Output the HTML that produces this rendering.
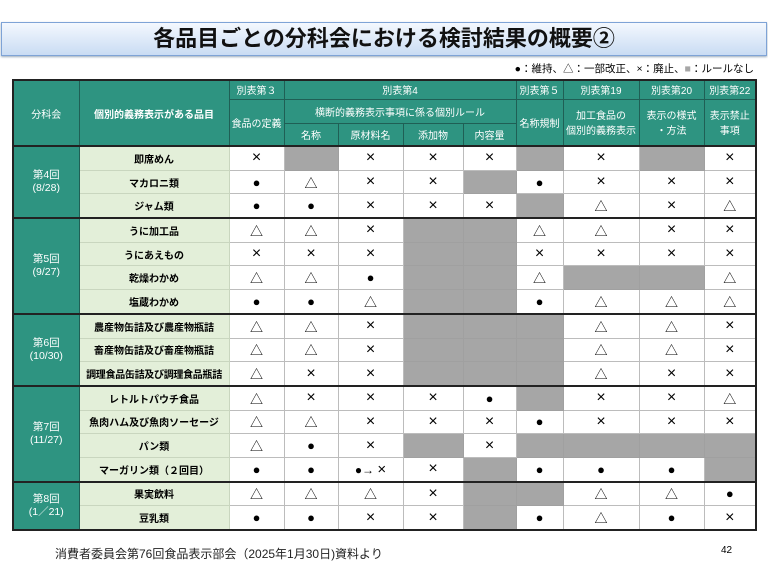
<!DOCTYPE html>
<html><head><meta charset="utf-8"><style>
body{margin:0;width:768px;height:576px;background:#fff;position:relative;overflow:hidden;font-family:"Liberation Sans","Noto Sans CJK JP",sans-serif}
.title{position:absolute;left:1px;top:22px;width:764px;height:32px;border:1px solid #7ea3d6;background:linear-gradient(#f4f8fe,#c9dcf3);box-shadow:0 1px 2px #9ab;text-align:center;font-size:22px;font-weight:bold;line-height:32px;color:#111}
.leg{position:absolute;right:14px;top:61px;font-size:10.5px;color:#000}
table{position:absolute;left:12px;top:79px;width:743px;border-collapse:collapse;table-layout:fixed;border:2px solid #222}
td{padding:0;text-align:center;font-size:13px;border:1px solid #bcbcbc;background:#fff;color:#000;overflow:hidden;white-space:nowrap}
td.x{font-size:16px}
td.h{background:#2e9481;color:#fff;border:1px solid #1f5f55;font-size:10px}
td.s{background:#2e9481;color:#fff;border:1px solid #1f5f55;font-size:10.5px;line-height:13px}
td.i{background:#e3efd9;font-weight:bold;font-size:10px;border-color:#c9d6bf}
td.g{background:#a6a6a6;border-color:#a0a0a0}
td.m{font-size:12px}
tr.d td{height:22.7px}
tr.t td{border-top:2px solid #222}
.foot{position:absolute;left:55px;top:545px;font-size:12px;color:#222}
.pg{position:absolute;left:721px;top:545px;font-size:10px}
</style></head><body>
<div class="title">各品目ごとの分科会における検討結果の概要②</div>
<div class="leg">●：維持、△：一部改正、×：廃止、<span style="color:#a6a6a6">■</span>：ルールなし</div>
<table>
<colgroup><col style="width:66px"><col style="width:150px"><col style="width:55px"><col style="width:54px"><col style="width:65px"><col style="width:60px"><col style="width:53px"><col style="width:47px"><col style="width:76px"><col style="width:65px"><col style="width:52px"></colgroup>
<tr style="height:19px"><td class="h" rowspan="3">分科会</td><td class="h" rowspan="3" style="font-weight:bold">個別的義務表示がある品目</td><td class="h">別表第３</td><td class="h" colspan="4">別表第4</td><td class="h">別表第５</td><td class="h">別表第19</td><td class="h">別表第20</td><td class="h">別表第22</td></tr>
<tr style="height:24px"><td class="h" rowspan="2">食品の定義</td><td class="h" colspan="4">横断的義務表示事項に係る個別ルール</td><td class="h" rowspan="2">名称規制</td><td class="h" rowspan="2">加工食品の<br>個別的義務表示</td><td class="h" rowspan="2">表示の様式<br>・方法</td><td class="h" rowspan="2">表示禁止<br>事項</td></tr>
<tr style="height:23px"><td class="h">名称</td><td class="h">原材料名</td><td class="h">添加物</td><td class="h">内容量</td></tr>
<tr class="d t"><td class="s" rowspan="3">第4回<br>(8/28)</td><td class="i">即席めん</td><td class="x">×</td><td class="g"></td><td class="x">×</td><td class="x">×</td><td class="x">×</td><td class="g"></td><td class="x">×</td><td class="g"></td><td class="x">×</td></tr>
<tr class="d"><td class="i">マカロニ類</td><td>●</td><td>△</td><td class="x">×</td><td class="x">×</td><td class="g"></td><td>●</td><td class="x">×</td><td class="x">×</td><td class="x">×</td></tr>
<tr class="d"><td class="i">ジャム類</td><td>●</td><td>●</td><td class="x">×</td><td class="x">×</td><td class="x">×</td><td class="g"></td><td>△</td><td class="x">×</td><td>△</td></tr>
<tr class="d t"><td class="s" rowspan="4">第5回<br>(9/27)</td><td class="i">うに加工品</td><td>△</td><td>△</td><td class="x">×</td><td class="g"></td><td class="g"></td><td>△</td><td>△</td><td class="x">×</td><td class="x">×</td></tr>
<tr class="d"><td class="i">うにあえもの</td><td class="x">×</td><td class="x">×</td><td class="x">×</td><td class="g"></td><td class="g"></td><td class="x">×</td><td class="x">×</td><td class="x">×</td><td class="x">×</td></tr>
<tr class="d"><td class="i">乾燥わかめ</td><td>△</td><td>△</td><td>●</td><td class="g"></td><td class="g"></td><td>△</td><td class="g"></td><td class="g"></td><td>△</td></tr>
<tr class="d"><td class="i">塩蔵わかめ</td><td>●</td><td>●</td><td>△</td><td class="g"></td><td class="g"></td><td>●</td><td>△</td><td>△</td><td>△</td></tr>
<tr class="d t"><td class="s" rowspan="3">第6回<br>(10/30)</td><td class="i">農産物缶詰及び農産物瓶詰</td><td>△</td><td>△</td><td class="x">×</td><td class="g"></td><td class="g"></td><td class="g"></td><td>△</td><td>△</td><td class="x">×</td></tr>
<tr class="d"><td class="i">畜産物缶詰及び畜産物瓶詰</td><td>△</td><td>△</td><td class="x">×</td><td class="g"></td><td class="g"></td><td class="g"></td><td>△</td><td>△</td><td class="x">×</td></tr>
<tr class="d"><td class="i" style="letter-spacing:-0.3px">調理食品缶詰及び調理食品瓶詰</td><td>△</td><td class="x">×</td><td class="x">×</td><td class="g"></td><td class="g"></td><td class="g"></td><td>△</td><td class="x">×</td><td class="x">×</td></tr>
<tr class="d t"><td class="s" rowspan="4">第7回<br>(11/27)</td><td class="i">レトルトパウチ食品</td><td>△</td><td class="x">×</td><td class="x">×</td><td class="x">×</td><td>●</td><td class="g"></td><td class="x">×</td><td class="x">×</td><td>△</td></tr>
<tr class="d"><td class="i">魚肉ハム及び魚肉ソーセージ</td><td>△</td><td>△</td><td class="x">×</td><td class="x">×</td><td class="x">×</td><td>●</td><td class="x">×</td><td class="x">×</td><td class="x">×</td></tr>
<tr class="d"><td class="i">パン類</td><td>△</td><td>●</td><td class="x">×</td><td class="g"></td><td class="x">×</td><td class="g"></td><td class="g"></td><td class="g"></td><td class="g"></td></tr>
<tr class="d"><td class="i">マーガリン類（２回目）</td><td>●</td><td>●</td><td class="m">●→ <span style="font-size:15px">×</span></td><td class="x">×</td><td class="g"></td><td>●</td><td>●</td><td>●</td><td class="g"></td></tr>
<tr class="d t"><td class="s" rowspan="2">第8回<br>(1／21)</td><td class="i">果実飲料</td><td>△</td><td>△</td><td>△</td><td class="x">×</td><td class="g"></td><td class="g"></td><td>△</td><td>△</td><td>●</td></tr>
<tr class="d"><td class="i">豆乳類</td><td>●</td><td>●</td><td class="x">×</td><td class="x">×</td><td class="g"></td><td>●</td><td>△</td><td>●</td><td class="x">×</td></tr>
</table>
<div class="foot">消費者委員会第76回食品表示部会（2025年1月30日)資料より</div>
<div class="pg">42</div>
</body></html>
